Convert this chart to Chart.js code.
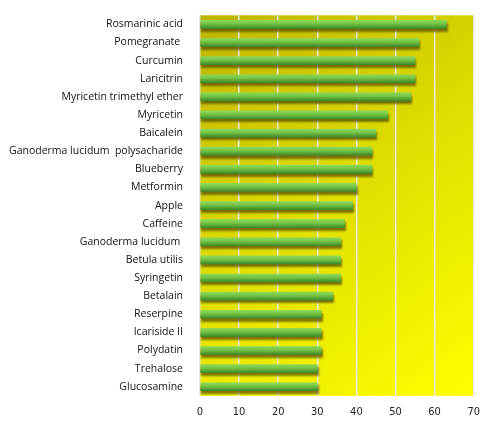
<!DOCTYPE html>
<html><head><meta charset="utf-8">
<script src="https://cdn.jsdelivr.net/npm/chart.js@4"></script>
<style>html,body{margin:0;padding:0;background:#fff}#w{width:490px;height:429px}</style>
</head><body><div id="w"><canvas id="c"></canvas></div>
<script>
const categories = ["Rosmarinic acid","Pomegranate ","Curcumin","Laricitrin","Myricetin trimethyl ether","Myricetin","Baicalein","Ganoderma lucidum  polysacharide","Blueberry","Metformin","Apple","Caffeine","Ganoderma lucidum ","Betula utilis","Syringetin","Betalain","Reserpine","Icariside II","Polydatin","Trehalose","Glucosamine"];
const values = [63,56,55,55,54,48,45,44,44,40,39,37,36,36,36,34,31,31,31,30,30];
const xTicks = [0,10,20,30,40,50,60,70];

const bgPlugin = {
  id:'bg',
  beforeDraw(chart){
    const {ctx, chartArea:a} = chart;
    const g = ctx.createLinearGradient(a.left, a.top, a.right, a.bottom);
    g.addColorStop(0,'#bdb400');
    g.addColorStop(0.5,'#e0e000');
    g.addColorStop(1,'#ffff00');
    ctx.save(); ctx.fillStyle = g; ctx.fillRect(a.left,a.top,a.right-a.left,a.bottom-a.top); ctx.restore();
  },
  beforeDatasetsDraw(chart){
    const ctx = chart.ctx; ctx.save();
    ctx.shadowColor='rgba(90,80,0,0.75)'; ctx.shadowOffsetY=3; ctx.shadowOffsetX=1; ctx.shadowBlur=2;
  },
  afterDatasetsDraw(chart){ chart.ctx.restore(); }
};

function barFill(context){
  const chart = context.chart;
  const ys = chart.scales && chart.scales.y;
  if(!ys || context.dataIndex === undefined) return '#6cbf3c';
  const y = ys.getPixelForValue(context.dataIndex), h = 8;
  if(!isFinite(y)) return '#6cbf3c';
  const g = chart.ctx.createLinearGradient(0, y-h/2, 0, y+h/2);
  g.addColorStop(0,'#8ed85a'); g.addColorStop(0.45,'#72c244'); g.addColorStop(1,'#3f8a2a');
  return g;
}

new Chart(document.getElementById('c'),{
  type:'bar',
  data:{labels:categories,datasets:[{data:values,backgroundColor:barFill,barThickness:8,borderWidth:0}]},
  plugins:[bgPlugin],
  options:{
    indexAxis:'y',responsive:true,maintainAspectRatio:false,animation:false,
    layout:{padding:{top:12,right:10,left:0,bottom:0}},
    plugins:{legend:{display:false},tooltip:{enabled:false}},
    scales:{
      x:{min:0,max:70,afterBuildTicks(s){s.ticks=xTicks.map(v=>({value:v}));},
        grid:{color:'#e8e8e8',lineWidth:1.5,drawTicks:false},border:{display:false},
        ticks:{padding:10,color:'#222',font:{family:'"Liberation Sans Narrow","DejaVu Sans Condensed",sans-serif',size:11}}},
      y:{grid:{display:false},border:{display:false},
        ticks:{padding:9,color:'#111',autoSkip:false,font:{family:'"Open Sans",sans-serif',size:10.5}}}
    }
  }
});
</script></body></html>
